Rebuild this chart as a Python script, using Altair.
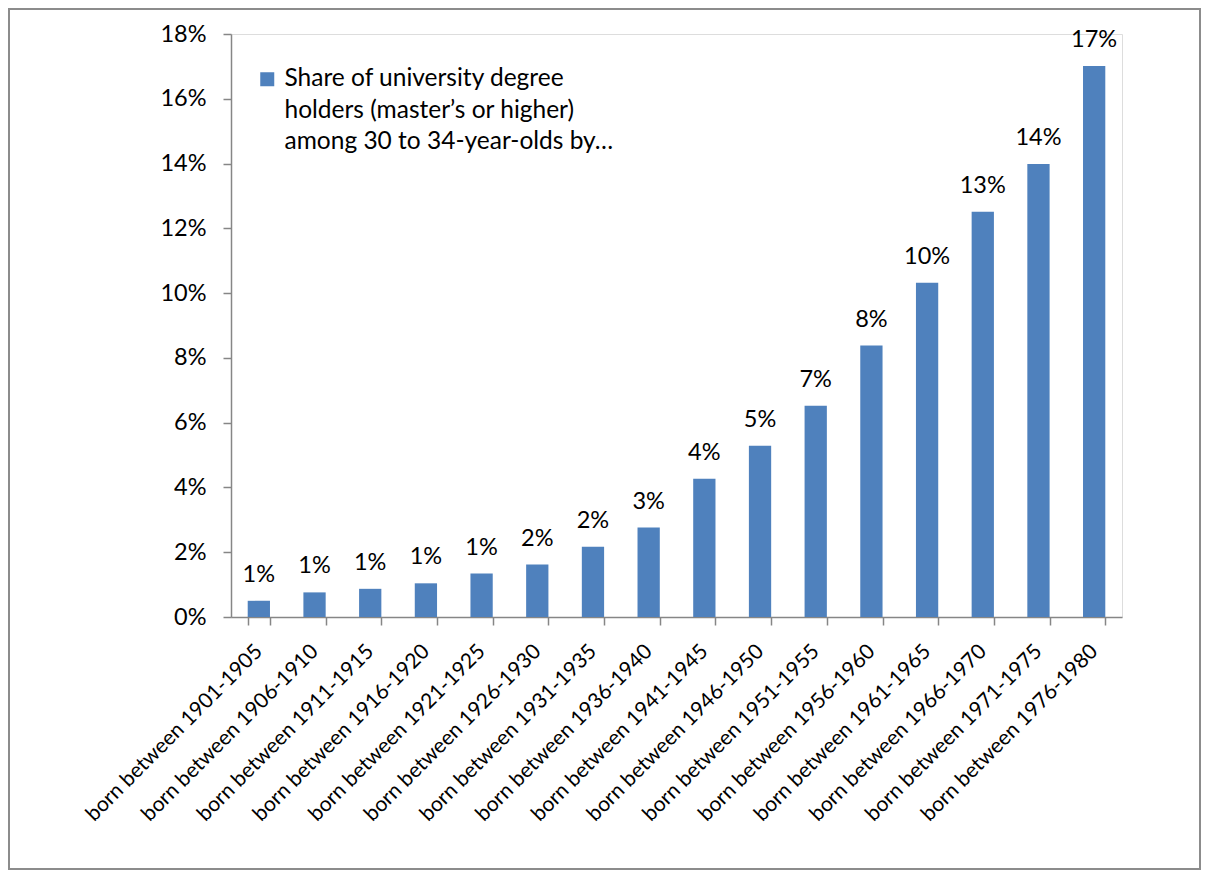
import json
import altair as alt
import pandas as pd

CATEGORIES = [
    "born between 1901-1905", "born between 1906-1910", "born between 1911-1915",
    "born between 1916-1920", "born between 1921-1925", "born between 1926-1930",
    "born between 1931-1935", "born between 1936-1940", "born between 1941-1945",
    "born between 1946-1950", "born between 1951-1955", "born between 1956-1960",
    "born between 1961-1965", "born between 1966-1970", "born between 1971-1975",
    "born between 1976-1980",
]
VALUES = [0.0050, 0.0076, 0.0087, 0.0104, 0.0134, 0.0162, 0.0217, 0.0276,
          0.0427, 0.0529, 0.0652, 0.0838, 0.1032, 0.1251, 0.1399, 0.1701]
SERIES = "Share of university degree holders (master’s or higher) among 30 to 34-year-olds by…"
LEGEND_LINES = ["Share of university degree", "holders (master’s or higher)",
                "among 30 to 34-year-olds by…"]
Y_TICKS = [0, 0.02, 0.04, 0.06, 0.08, 0.10, 0.12, 0.14, 0.16, 0.18]

df = pd.DataFrame({"cohort": CATEGORIES, "share": VALUES, "series": SERIES})

FONT = "Lato"
FS_X = 21
FS_Y = 23.5
FS_BAR = 23.5
FS_LEG = 24.5
AXIS_GRAY = "#868686"
BAR = "#4F81BD"
W, H = 891, 583

x = alt.X(
    "cohort:N", sort=None, title=None,
    scale=alt.Scale(paddingInner=0.6, paddingOuter=0.3),
    axis=alt.Axis(labelAngle=-45, labelAlign="right", labelBaseline="middle",
                  tickBand="extent", tickSize=8, labelPadding=23,
                  domainColor=AXIS_GRAY, tickColor=AXIS_GRAY, domainWidth=1.5, tickWidth=1.5,
                  labelFont=FONT, labelFontSize=FS_X, labelColor="black", labelLimit=400),
)
y = alt.Y(
    "share:Q", title=None,
    scale=alt.Scale(domain=[0, 0.18], nice=False),
    axis=alt.Axis(values=Y_TICKS, format=".0%", grid=False, tickSize=8, labelPadding=17,
                  domainColor=AXIS_GRAY, tickColor=AXIS_GRAY, domainWidth=1.5, tickWidth=1.5,
                  labelFont=FONT, labelFontSize=FS_Y, labelColor="black"),
)

bars = alt.Chart(df).mark_bar().encode(
    x=x, y=y,
    color=alt.Color(
        "series:N", scale=alt.Scale(range=[BAR]),
        legend=alt.Legend(orient="none", legendX=24, legendY=33, title=None,
                          symbolType="square", symbolSize=196, symbolStrokeWidth=0,
                          labelExpr=json.dumps(LEGEND_LINES, ensure_ascii=False),
                          labelFont=FONT, labelFontSize=FS_LEG, labelColor="black",
                          labelBaseline="middle", labelOffset=5, labelLimit=500, padding=0),
    ),
)

labels = alt.Chart(df).mark_text(baseline="alphabetic", dy=-19, font=FONT, fontSize=FS_BAR,
                                 color="black").encode(
    x=alt.X("cohort:N", sort=None),
    y=alt.Y("share:Q"),
    text=alt.Text("share:Q", format=".0%"),
)

border = alt.Chart(pd.DataFrame({"k": [0]})).mark_rect(
    fillOpacity=0, stroke="#8c8c8c", strokeWidth=2
).encode(x=alt.value(-222), x2=alt.value(969), y=alt.value(-25), y2=alt.value(835))

chart = alt.layer(border, bars, labels).properties(
    width=W, height=H,
    autosize=alt.AutoSizeParams(type="none"),
    padding={"left": 223, "top": 26, "right": 80, "bottom": 253},
).configure_view(strokeWidth=0).configure(
    style={"guide-label": {"lineHeight": 31.5}}
)

chart.save("out.html", embed_options={"renderer": "svg", "actions": False})
